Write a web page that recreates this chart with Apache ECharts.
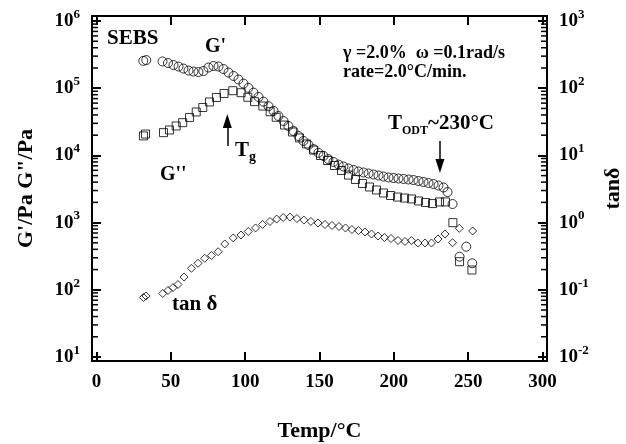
<!DOCTYPE html>
<html><head><meta charset="utf-8">
<script src="https://cdn.jsdelivr.net/npm/echarts@6/dist/echarts.min.js"></script>
<style>html,body{margin:0;padding:0;background:#fff}#c{width:626px;height:444px}</style>
</head><body><div id="c"></div>
<script>
const FONT = "'Liberation Serif','Times New Roman',serif";

// ---- tick positions ----
const xTicks = [0, 50, 100, 150, 200, 250, 300];
const minorMult = [2, 3, 4, 5, 6, 7, 8, 9];
const minorDecades = [10, 100, 1000, 10000, 100000];

// ---- G' (circles) ----
const gpT = [31.5, 33.5, 44.4, 48.1, 51.8, 55.2, 58.5, 61.9, 65.2, 68.6,
  71.9, 75.3, 78.7, 82.1, 85.4, 88.8, 92.2, 95.5, 98.9, 102.2,
  105.6, 109.0, 112.3, 115.7, 119.1, 122.4, 125.8, 129.1, 132.5, 135.9,
  139.2, 142.6, 146.0, 149.3, 152.7, 156.0, 159.4, 162.8, 166.1, 169.5,
  172.9, 176.2, 179.6, 183.0, 186.3, 189.7, 193.0, 196.4, 199.8, 203.1,
  206.5, 209.9, 213.2, 216.6, 219.9, 223.3, 226.7, 230.0, 233.4, 236.1,
  239.5, 244.2, 248.7, 252.7];
const gpV = [2.55e5, 2.62e5, 2.50e5, 2.37e5, 2.21e5, 2.10e5, 1.96e5, 1.83e5, 1.77e5, 1.74e5,
  1.80e5, 2.03e5, 2.14e5, 2.10e5, 1.93e5, 1.71e5, 1.52e5, 1.35e5, 1.17e5, 1.01e5,
  8.6e4, 7.4e4, 6.3e4, 5.4e4, 4.6e4, 3.86e4, 3.25e4, 2.74e4, 2.31e4, 1.94e4,
  1.64e4, 1.43e4, 1.24e4, 1.09e4, 9.8e3, 8.8e3, 7.98e3, 7.3e3, 6.84e3, 6.39e3,
  6.07e3, 5.76e3, 5.57e3, 5.38e3, 5.2e3, 5.02e3, 4.85e3, 4.69e3, 4.61e3, 4.53e3,
  4.46e3, 4.38e3, 4.3e3, 4.16e3, 4.02e3, 3.88e3, 3.75e3, 3.56e3, 3.33e3, 2.85e3,
  1.89e3, 311, 438, 248];

// ---- G'' (squares) ----
const gppT = [31.6, 33.0, 45.1, 49.1, 53.6, 58.0, 62.6, 67.1, 71.5, 76.0,
  80.7, 85.8, 91.7, 97.3, 101.8, 106.3, 111.9, 116.8, 120.9, 126.5,
  131.8, 136.5, 141.2, 146.0, 150.7, 155.4, 160.1, 164.8, 169.5, 174.2,
  178.9, 183.6, 188.3, 193.0, 197.8, 202.5, 207.2, 211.9, 216.6, 221.3,
  226.0, 230.7, 234.7, 239.7, 244.2, 252.5];
const gppV = [1.95e4, 2.08e4, 2.18e4, 2.39e4, 2.74e4, 3.07e4, 3.67e4, 4.43e4, 5.17e4, 6.24e4,
  7.28e4, 8.35e4, 9.18e4, 8.57e4, 7.32e4, 6.3e4, 5.43e4, 4.47e4, 3.69e4, 2.83e4,
  2.23e4, 1.82e4, 1.48e4, 1.2e4, 9.97e3, 8.4e3, 7.07e3, 5.96e3, 5.1e3, 4.38e3,
  3.82e3, 3.39e3, 3.06e3, 2.76e3, 2.53e3, 2.4e3, 2.32e3, 2.25e3, 2.1e3, 1.99e3,
  1.92e3, 2.03e3, 2.03e3, 998, 262, 197];

// ---- tan delta (diamonds, right axis) ----
const tdT = [31.6, 33.3, 44.6, 48.1, 51.5, 54.8, 58.9, 63.9, 68.3, 72.8,
  77.3, 81.8, 86.3, 92.0, 97.2, 102.1, 107.0, 111.7, 116.7, 121.2,
  125.6, 130.1, 134.8, 139.5, 144.2, 149.0, 153.7, 158.4, 163.1, 167.5,
  171.8, 176.2, 180.6, 185.0, 189.4, 193.7, 198.1, 202.8, 207.5, 211.8,
  216.2, 220.9, 225.3, 229.7, 234.4, 239.5, 244.0, 253.0];
const tdV = [0.0768, 0.0809, 0.0881, 0.0977, 0.108, 0.120, 0.155, 0.209, 0.248, 0.294,
  0.324, 0.369, 0.481, 0.591, 0.654, 0.738, 0.832, 0.938, 1.04, 1.13,
  1.19, 1.21, 1.15, 1.09, 1.04, 0.986, 0.938, 0.906, 0.875, 0.832,
  0.789, 0.762, 0.724, 0.676, 0.632, 0.600, 0.580, 0.542, 0.524, 0.542,
  0.497, 0.497, 0.497, 0.570, 0.676, 0.502, 0.822, 0.750];

// ---- annotation arrows (data coords) ----
const tgArrow = [[88, 1.38e4], [88, 3.25e4]];
const odtArrow = [[231, 1.64e4], [231, 6.95e3]];

const X_MIN = -3, X_MAX = 303;
const Y_MIN = Math.pow(10, 0.9405), Y_MAX = Math.pow(10, 6.0744);
const R_MIN = Y_MIN / 1000, R_MAX = Y_MAX / 1000;

const minorVals = [];
minorDecades.forEach(d => minorMult.forEach(m => minorVals.push([0, m * d])));

function powLabel(v) {
  const e = Math.log10(v), r = Math.round(e);
  if (Math.abs(e - r) > 1e-6) return '';
  return '{b|10}{s|' + r + '}';
}
const richLab = {
  b: {fontFamily: FONT, fontWeight: 'bold', fontSize: 19, lineHeight: 26, verticalAlign: 'middle', color: '#000'},
  s: {fontFamily: FONT, fontWeight: 'bold', fontSize: 13, lineHeight: 13, verticalAlign: 'top', color: '#000'}
};
const axLine = {show: true, onZero: false, lineStyle: {color: '#000', width: 2}};
const nameStyle = {fontFamily: FONT, fontWeight: 'bold', fontSize: 22, color: '#000'};
const hollow = {color: 'rgba(0,0,0,0)', borderColor: '#000', borderWidth: 1};

const chart = echarts.init(document.getElementById('c'), null, {renderer: 'canvas'});
chart.setOption({
  animation: false,
  backgroundColor: '#fff',
  grid: {left: 92, top: 16, width: 455, height: 345, containLabel: false, outerBoundsMode: 'none'},
  xAxis: [{
    type: 'value', min: X_MIN, max: X_MAX, position: 'bottom',
    axisLine: axLine,
    axisTick: {show: true, inside: true, length: 9, customValues: xTicks, lineStyle: {color: '#000', width: 2}},
    axisLabel: {show: true, customValues: xTicks, margin: 12, fontFamily: FONT, fontWeight: 'bold', fontSize: 19, color: '#000'},
    splitLine: {show: false},
    name: 'Temp/°C', nameLocation: 'middle', nameGap: 59, nameTextStyle: nameStyle
  }, {
    type: 'value', min: X_MIN, max: X_MAX, position: 'top',
    axisLine: axLine,
    axisTick: {show: true, inside: true, length: 9, customValues: xTicks, lineStyle: {color: '#000', width: 2}},
    axisLabel: {show: false}, splitLine: {show: false}
  }],
  yAxis: [{
    type: 'log', logBase: 10, min: Y_MIN, max: Y_MAX, position: 'left',
    axisLine: axLine,
    axisTick: {show: true, inside: true, length: 9, lineStyle: {color: '#000', width: 2}},
    axisLabel: {show: true, margin: 12, formatter: powLabel, rich: richLab},
    splitLine: {show: false}, minorTick: {show: false},
    name: 'G\'/Pa G"/Pa', nameLocation: 'middle', nameGap: 55, nameRotate: 90, nameTextStyle: nameStyle
  }, {
    type: 'log', logBase: 10, min: R_MIN, max: R_MAX, position: 'right',
    axisLine: axLine,
    axisTick: {show: true, inside: true, length: 9, lineStyle: {color: '#000', width: 2}},
    axisLabel: {show: true, margin: 12, formatter: powLabel, rich: richLab},
    splitLine: {show: false}, minorTick: {show: false},
    name: 'tanδ', nameLocation: 'middle', nameGap: 55, nameRotate: 90, nameTextStyle: nameStyle
  }],
  series: [{
    type: 'custom', name: 'minorTicks', xAxisIndex: 0, yAxisIndex: 0, silent: true, clip: false, z: 5,
    data: minorVals,
    renderItem: function (params, api) {
      const v = api.value(1);
      const pL = api.coord([X_MIN, v]);
      const pR = api.coord([X_MAX, v]);
      return {type: 'group', children: [
        {type: 'line', shape: {x1: pL[0], y1: pL[1], x2: pL[0] + 6, y2: pL[1]}, style: {stroke: '#000', lineWidth: 1.5}},
        {type: 'line', shape: {x1: pR[0] - 6, y1: pR[1], x2: pR[0], y2: pR[1]}, style: {stroke: '#000', lineWidth: 1.5}}
      ]};
    }
  }, {
    type: 'scatter', name: "G'", xAxisIndex: 0, yAxisIndex: 0,
    data: gpT.map((t, i) => [t, gpV[i]]),
    symbol: 'circle', symbolSize: 9, itemStyle: hollow, emphasis: {disabled: true},
    markLine: {
      silent: true, animation: false, symbol: ['none', 'triangle'], symbolSize: [9, 14],
      label: {show: false}, emphasis: {disabled: true},
      lineStyle: {color: '#000', width: 1.5, type: 'solid'},
      data: [
        [{coord: tgArrow[0]}, {coord: tgArrow[1]}],
        [{coord: odtArrow[0]}, {coord: odtArrow[1]}]
      ]
    }
  }, {
    type: 'scatter', name: "G''", xAxisIndex: 0, yAxisIndex: 0,
    data: gppT.map((t, i) => [t, gppV[i]]),
    symbol: 'rect', symbolSize: 8, itemStyle: hollow, emphasis: {disabled: true}
  }, {
    type: 'scatter', name: 'tanδ', xAxisIndex: 0, yAxisIndex: 1,
    data: tdT.map((t, i) => [t, tdV[i]]),
    symbol: 'diamond', symbolSize: 8, itemStyle: hollow, emphasis: {disabled: true}
  }],
  graphic: [
    {type: 'text', x: 107, y: 39, style: {text: 'SEBS', fontFamily: FONT, fontWeight: 'bold', fontSize: 21, fill: '#000', align: 'left', verticalAlign: 'middle'}},
    {type: 'text', x: 205, y: 47, style: {text: "G'", fontFamily: FONT, fontWeight: 'bold', fontSize: 20, fill: '#000', align: 'left', verticalAlign: 'middle'}},
    {type: 'text', x: 160, y: 175, style: {text: "G''", fontFamily: FONT, fontWeight: 'bold', fontSize: 20, fill: '#000', align: 'left', verticalAlign: 'middle'}},
    {type: 'text', x: 172, y: 305, style: {text: 'tan δ', fontFamily: FONT, fontWeight: 'bold', fontSize: 21, fill: '#000', align: 'left', verticalAlign: 'middle'}},
    {type: 'text', x: 343, y: 53, style: {text: 'γ =2.0%  ω =0.1rad/s', fontFamily: FONT, fontWeight: 'bold', fontSize: 18, fill: '#000', align: 'left', verticalAlign: 'middle'}},
    {type: 'text', x: 343, y: 72, style: {text: 'rate=2.0°C/min.', fontFamily: FONT, fontWeight: 'bold', fontSize: 18, fill: '#000', align: 'left', verticalAlign: 'middle'}},
    {type: 'text', x: 388, y: 124, style: {text: '{t|T}{s|ODT}{t|~230°C}', align: 'left', verticalAlign: 'middle',
      rich: {t: {fontFamily: FONT, fontWeight: 'bold', fontSize: 21, lineHeight: 26, verticalAlign: 'middle', color: '#000'},
             s: {fontFamily: FONT, fontWeight: 'bold', fontSize: 12, lineHeight: 12, verticalAlign: 'bottom', color: '#000'}}}},
    {type: 'text', x: 235, y: 151, style: {text: '{t|T}{s|g}', align: 'left', verticalAlign: 'middle',
      rich: {t: {fontFamily: FONT, fontWeight: 'bold', fontSize: 21, lineHeight: 26, verticalAlign: 'middle', color: '#000'},
             s: {fontFamily: FONT, fontWeight: 'bold', fontSize: 14, lineHeight: 14, verticalAlign: 'bottom', color: '#000'}}}}
  ]
});
</script></body></html>
